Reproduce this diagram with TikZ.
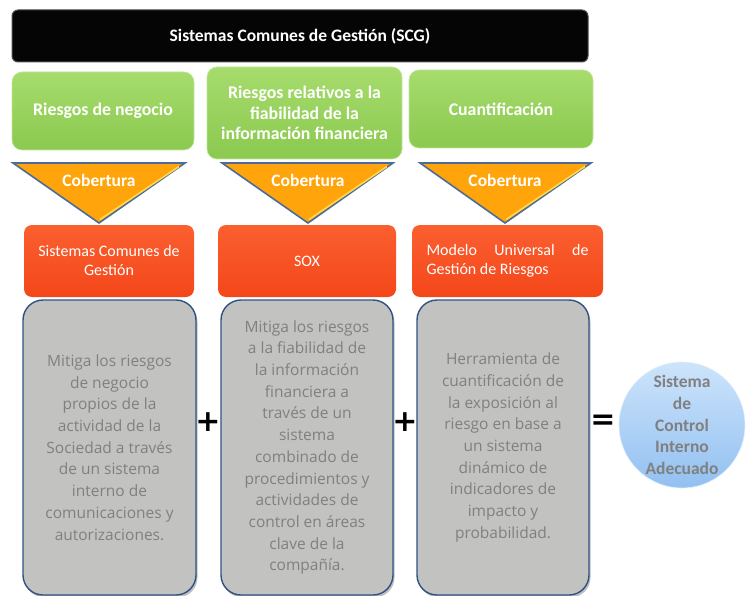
\documentclass[tikz,border=0pt]{standalone}
\usepackage{fontspec}
\setmainfont{Carlito}
\newfontfamily\graytextfont{Open Sans}
\newfontfamily\symfont{DejaVu Sans}
\usetikzlibrary{shadows}
\definecolor{barblack}{HTML}{050505}
\definecolor{greenA}{HTML}{A6DC6D}
\definecolor{greenB}{HTML}{8BC94F}
\definecolor{orangeA}{HTML}{FFA40A}
\definecolor{triedge}{HTML}{4B6C9A}
\definecolor{trihi}{HTML}{FFD84A}
\definecolor{redA}{HTML}{FB5F30}
\definecolor{redB}{HTML}{F4471A}
\definecolor{grayfill}{HTML}{C2C3C1}
\definecolor{grayedge}{HTML}{2F5284}
\definecolor{graytxt}{HTML}{808080}
\definecolor{blueA}{HTML}{CDE4FB}
\definecolor{blueB}{HTML}{92C0F1}
\tikzset{
  barbox/.style={rectangle, rounded corners=6pt, fill=barblack, draw=black!70, line width=1pt,
    text=white, font=\fontsize{17.5}{20}\selectfont\bfseries},
  greenbox/.style={rectangle, rounded corners=10pt, top color=greenA, bottom color=greenB,
    draw=greenA!70!white, line width=0.6pt, text=white, align=center,
    font=\fontsize{17.8}{20.5}\selectfont\bfseries},
  tri/.style={fill=orangeA, draw=triedge, line width=1.6pt, line join=miter},
  trihl/.style={draw=trihi, line width=1.6pt},
  cob/.style={text=white, font=\fontsize{17.5}{20}\selectfont\bfseries},
  redbox/.style={rectangle, rounded corners=8pt, top color=redA, bottom color=redB,
    text=white, align=center, font=\fontsize{16}{19}\selectfont},
  graybox/.style={rectangle, rounded corners=20pt, fill=grayfill, draw=grayedge, line width=1.4pt,
    drop shadow={opacity=0.5, shadow xshift=1.5pt, shadow yshift=-2.5pt},
    text=graytxt, align=center, font=\graytextfont\fontsize{15.5}{21.7}\selectfont},
  opsym/.style={text=black, font=\symfont\fontsize{30}{30}\selectfont\bfseries, inner sep=0pt},
  resultcircle/.style={circle, minimum size=126pt, inner sep=0pt, top color=blueA, bottom color=blueB,
    draw=blueA!60!white, line width=0.6pt, text=graytxt, align=center,
    font=\fontsize{17.5}{21.7}\selectfont\bfseries}
}
\begin{document}
\begin{tikzpicture}[x=1pt,y=-1pt]
\useasboundingbox (0,0) rectangle (746,596);
% top bar
\node[barbox, minimum width=576pt, minimum height=52pt] (bar) at (300,36) {Sistemas Comunes de Gesti\'on (SCG)};
% green boxes
\node[greenbox, minimum width=182pt, minimum height=78pt] (g1) at (103,111) {Riesgos de negocio};
\node[greenbox, minimum width=195pt, minimum height=92pt] (g2) at (304.5,113) {Riesgos relativos a la\\fiabilidad de la\\informaci\'on financiera};
\node[greenbox, minimum width=184pt, minimum height=78pt] (g3) at (501,109) {Cuantificaci\'on};
% triangles
\draw[tri] (13,163) -- (185,163) -- (99,223) -- cycle;
\draw[trihl] (179,166.5) -- (100,219.5);
\node[cob] (c1) at (99,180) {Cobertura};
\draw[tri] (222,163) -- (393,163) -- (308,223) -- cycle;
\draw[trihl] (387,166.5) -- (309,219.5);
\node[cob] (c2) at (308,180) {Cobertura};
\draw[tri] (420,163) -- (591,163) -- (505,223) -- cycle;
\draw[trihl] (585,166.5) -- (506,219.5);
\node[cob] (c3) at (505,180) {Cobertura};
% red boxes
\node[redbox, minimum width=170pt, minimum height=72pt] (r1) at (109,261) {Sistemas Comunes de\\Gesti\'on};
\node[redbox, minimum width=178pt, minimum height=72pt] (r2) at (307,261) {SOX};
\node[redbox, minimum width=191pt, minimum height=72pt, align=left] (r3) at (507.5,261)
  {\makebox[162pt][s]{Modelo Universal de}\\Gesti\'on de Riesgos};
% gray boxes
\node[graybox, minimum width=173pt, minimum height=295pt] (b1) at (109.5,447.5)
  {Mitiga los riesgos\\de negocio\\propios de la\\actividad de la\\Sociedad a trav\'es\\de un sistema\\interno de\\comunicaciones y\\autorizaciones.};
\node[graybox, minimum width=172pt, minimum height=295pt] (b2) at (307,447.5)
  {Mitiga los riesgos\\a la fiabilidad de\\la informaci\'on\\financiera a\\trav\'es de un\\sistema\\combinado de\\procedimientos y\\actividades de\\control en \'areas\\clave de la\\compa\~n\'ia.};
\node[graybox, minimum width=172pt, minimum height=295pt] (b3) at (503,447.5)
  {Herramienta de\\cuantificaci\'on de\\la exposici\'on al\\riesgo en base a\\un sistema\\din\'amico de\\indicadores de\\impacto y\\probabilidad.};
% operators
\node[opsym] (p1) at (208,422) {+};
\node[opsym] (p2) at (405,422) {+};
\node[opsym] (eq) at (603,422) {=};
% result
\node[resultcircle] (res) at (682,425) {Sistema\\de\\Control\\Interno\\Adecuado};
\end{tikzpicture}
\end{document}
